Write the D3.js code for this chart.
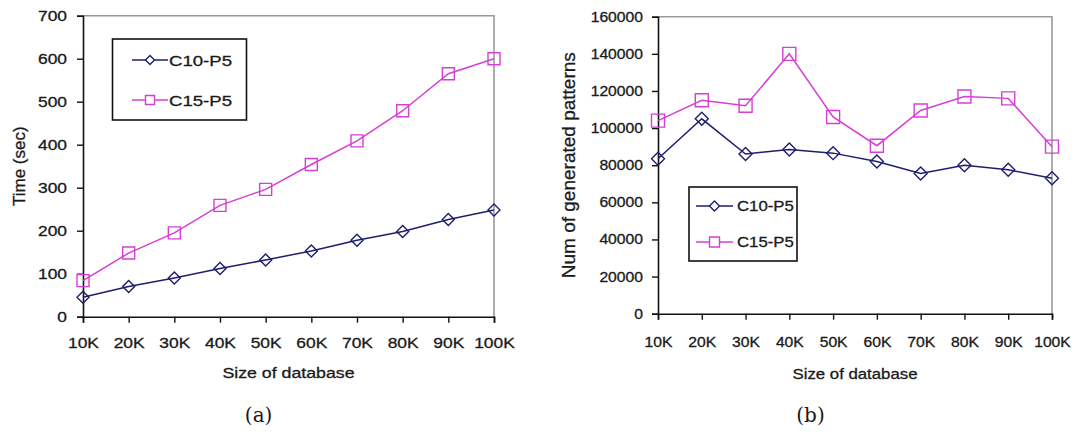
<!DOCTYPE html>
<html>
<head>
<meta charset="utf-8">
<script src="https://cdn.jsdelivr.net/npm/d3@7"></script>
<style>
  html, body { margin: 0; padding: 0; background: #fff; }
  svg { display: block; }
  text { font-family: "Liberation Sans", Arial, sans-serif; fill: #1a1a1a; }
  .chart-text { stroke: #1a1a1a; stroke-width: 0.3px; }
  .caption { font-family: "DejaVu Serif", "Liberation Serif", serif; }
</style>
</head>
<body>
<svg id="chart" width="1078" height="435"></svg>
<script>
// Database sizes shared by both panels
const sizes = ["10K", "20K", "30K", "40K", "50K", "60K", "70K", "80K", "90K", "100K"];
const seriesNames = ["C10-P5", "C15-P5"];

// (a) execution time in seconds
const timeC10 = [45, 70, 90, 112, 132, 153, 178, 198, 226, 248];
const timeC15 = [84, 148, 195, 259, 296, 354, 409, 479, 565, 600];
const timeTicks = [0, 100, 200, 300, 400, 500, 600, 700];

// (b) number of generated patterns
const patC10 = [83500, 105000, 86000, 88500, 86500, 82000, 75500, 80000, 77500, 73000];
const patC15 = [104000, 115000, 112000, 140000, 106000, 90500, 109500, 117000, 116000, 90000];
const patTicks = [0, 20000, 40000, 60000, 80000, 100000, 120000, 140000, 160000];

const colors = ["#1e1e6e", "#d63fd6"];
const svg = d3.select("#chart");

function drawPanel(cfg) {
  const g = svg.append("g");
  const x = d3.scalePoint().domain(sizes).range([cfg.left, cfg.right]);
  const y = d3.scaleLinear().domain([0, cfg.max]).range([cfg.bottom, cfg.top]);
  const sx = cfg.sx;

  // plot frame: grey top and right edges
  g.append("path")
    .attr("d", `M${cfg.left},${cfg.top}H${cfg.right}V${cfg.bottom}`)
    .attr("fill", "none").attr("stroke", "#9a9a9a").attr("stroke-width", 1.6);

  // y axis
  const yAx = g.append("g").attr("transform", `translate(${cfg.left},0)`)
    .call(d3.axisLeft(y).tickValues(cfg.ticks).tickSize(6).tickPadding(cfg.yPad).tickFormat(d3.format("d")));
  yAx.select(".domain").attr("stroke", "#111").attr("stroke-width", 1.6);
  yAx.selectAll(".tick line").attr("stroke", "#111").attr("stroke-width", 1.4);
  yAx.selectAll(".tick text")
    .attr("class", "chart-text")
    .attr("font-size", cfg.fs).attr("font-family", null).attr("fill", "#1a1a1a")
    .attr("x", function () { return +d3.select(this).attr("x") / sx; })
    .attr("transform", `scale(${sx},1)`);

  // x axis
  const xAx = g.append("g").attr("transform", `translate(0,${cfg.bottom})`)
    .call(d3.axisBottom(x).tickSize(6).tickPadding(cfg.xPad));
  xAx.select(".domain").attr("stroke", "#111").attr("stroke-width", 1.6);
  xAx.selectAll(".tick line").attr("stroke", "#111").attr("stroke-width", 1.4);
  xAx.selectAll(".tick text")
    .attr("class", "chart-text")
    .attr("font-size", cfg.fs).attr("font-family", null).attr("fill", "#1a1a1a")
    .attr("transform", `scale(${sx},1)`);

  // axis titles
  g.append("text").attr("class", "chart-text")
    .attr("transform", `translate(${(cfg.left + cfg.right) / 2},${cfg.xTitleY}) scale(${sx},1)`)
    .attr("text-anchor", "middle").attr("font-size", cfg.titleFs)
    .text("Size of database");
  g.append("text").attr("class", "chart-text")
    .attr("transform", `translate(${cfg.yTitleX},${(cfg.top + cfg.bottom) / 2}) rotate(-90)`)
    .attr("text-anchor", "middle").attr("font-size", cfg.yTitleFs)
    .text(cfg.yTitle);

  // series
  const line = d3.line().x((d, i) => x(sizes[i])).y(d => y(d));
  const ms = cfg.marker;
  cfg.series.forEach((vals, si) => {
    g.append("path").datum(vals)
      .attr("d", line).attr("fill", "none")
      .attr("stroke", colors[si]).attr("stroke-width", 1.5);
    const pts = g.append("g").selectAll("path").data(vals).join("path")
      .attr("transform", (d, i) => `translate(${x(sizes[i])},${y(d)})`)
      .attr("fill", "none").attr("stroke", colors[si]).attr("stroke-width", 1.4);
    if (si === 0) pts.attr("d", `M0,${-ms}L${ms},0L0,${ms}L${-ms},0Z`);
    else pts.attr("d", `M${-ms},${-ms}H${ms}V${ms}H${-ms}Z`);
  });

  // legend
  const L = cfg.legend;
  g.append("rect")
    .attr("x", L.x).attr("y", L.y).attr("width", L.w).attr("height", L.h)
    .attr("fill", "#fff").attr("stroke", "#111").attr("stroke-width", 1.6);
  seriesNames.forEach((name, si) => {
    const ly = L.rows[si];
    g.append("line")
      .attr("x1", L.lx1).attr("x2", L.lx2).attr("y1", ly).attr("y2", ly)
      .attr("stroke", colors[si]).attr("stroke-width", 1.5);
    const mx = (L.lx1 + L.lx2) / 2, lm = L.marker;
    g.append("path")
      .attr("transform", `translate(${mx},${ly})`)
      .attr("d", si === 0 ? `M0,${-lm}L${lm},0L0,${lm}L${-lm},0Z` : `M${-lm},${-lm}H${lm}V${lm}H${-lm}Z`)
      .attr("fill", "#fff").attr("stroke", colors[si]).attr("stroke-width", 1.4);
    g.append("text").attr("class", "chart-text")
      .attr("transform", `translate(${L.tx},${ly + L.fs * 0.36}) scale(${sx},1)`)
      .attr("font-size", L.fs).text(name);
  });

  // panel caption
  svg.append("text").attr("class", "caption")
    .attr("x", cfg.capX).attr("y", 422)
    .attr("text-anchor", "middle").attr("font-size", 20)
    .text(cfg.caption);
}

drawPanel({
  left: 83, right: 494, top: 15.7, bottom: 316.7,
  max: 700, ticks: timeTicks, series: [timeC10, timeC15],
  sx: 1.2, fs: 14.5, yPad: 10, xPad: 15,
  titleFs: 14.8, xTitleY: 378, yTitle: "Time (sec)", yTitleX: 25, yTitleFs: 17,
  marker: 6,
  legend: { x: 112.5, y: 39, w: 134, h: 81, rows: [60, 100], lx1: 132, lx2: 168, tx: 169, fs: 15.5, marker: 4.5 },
  capX: 258.6, caption: "(a)"
});

drawPanel({
  left: 658, right: 1052, top: 16.7, bottom: 313.7,
  max: 160000, ticks: patTicks, series: [patC10, patC15],
  sx: 1.12, fs: 14, yPad: 9, xPad: 17,
  titleFs: 15, xTitleY: 378.5, yTitle: "Num of generated patterns", yTitleX: 575, yTitleFs: 19,
  marker: 6.5,
  legend: { x: 689, y: 187, w: 108, h: 74, rows: [206, 242], lx1: 696, lx2: 733, tx: 737, fs: 15, marker: 5 },
  capX: 810.5, caption: "(b)"
});
</script>
</body>
</html>
